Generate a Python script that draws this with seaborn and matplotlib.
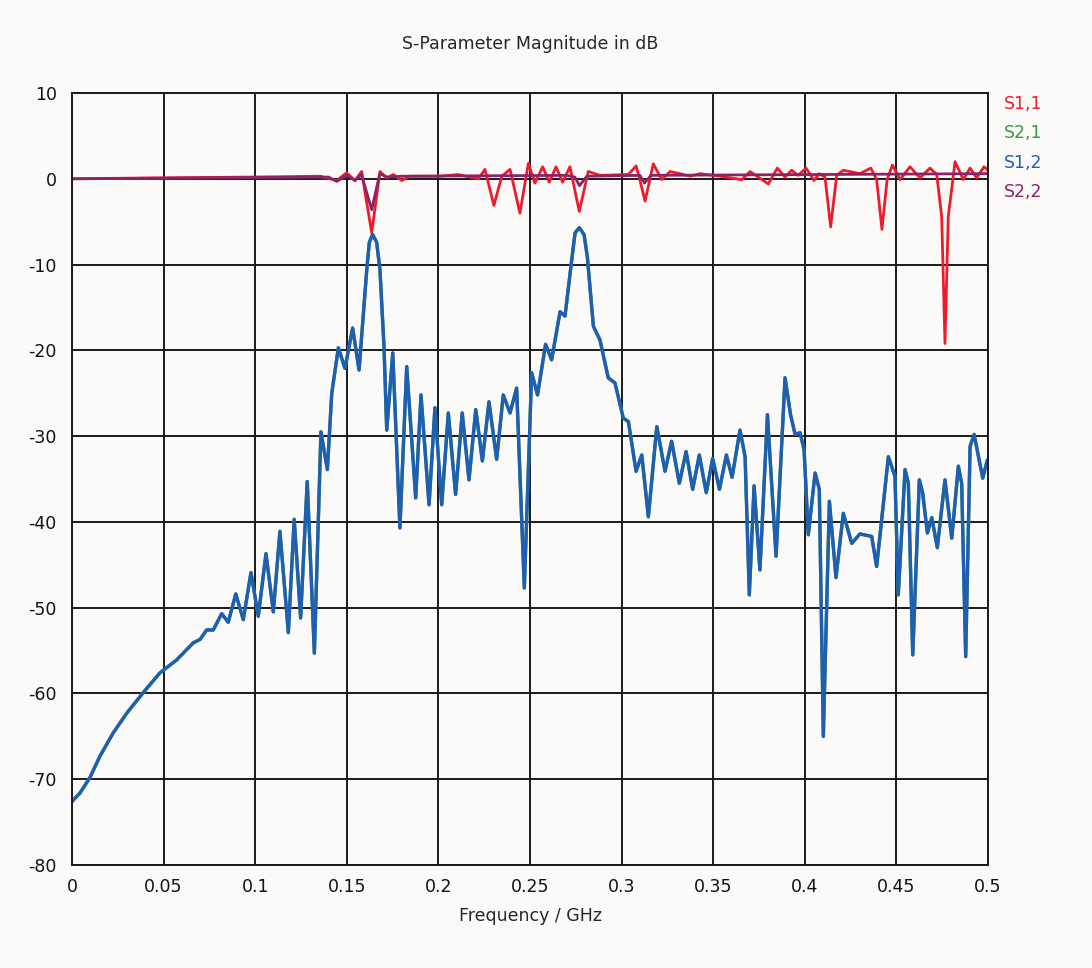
import numpy as np
import pandas as pd
import seaborn as sns
import matplotlib
matplotlib.use("Agg")
import matplotlib.pyplot as plt

# S1,2 (and S2,1, identical): frequency in GHz, magnitude in dB
freq_s12 = [0.0000, 0.0044, 0.0098, 0.0153, 0.0225, 0.0299, 0.0389, 0.0480, 0.0571, 0.0662,
            0.0699, 0.0735, 0.0771, 0.0817, 0.0853, 0.0894, 0.0935, 0.0977, 0.1017, 0.1059,
            0.1099, 0.1135, 0.1181, 0.1213, 0.1248, 0.1284, 0.1323, 0.1359, 0.1394, 0.1418,
            0.1454, 0.1490, 0.1532, 0.1567, 0.1609, 0.1623, 0.1641, 0.1663, 0.1681, 0.1703,
            0.1718, 0.1751,
            0.1790, 0.1827, 0.1876, 0.1905, 0.1949, 0.1981, 0.2018, 0.2054, 0.2094, 0.2130,
            0.2167, 0.2204, 0.2240, 0.2276, 0.2318, 0.2354, 0.2391, 0.2427, 0.2469, 0.2509,
            0.2541, 0.2585, 0.2618, 0.2664, 0.2691, 0.2728, 0.2746, 0.2769, 0.2795, 0.2813,
            0.2846, 0.2882,
            0.2927, 0.2964, 0.3009, 0.3037, 0.3079, 0.3110, 0.3146, 0.3192, 0.3237, 0.3273,
            0.3315, 0.3352, 0.3388, 0.3424, 0.3462, 0.3497, 0.3534, 0.3572, 0.3603, 0.3646,
            0.3674, 0.3697, 0.3723, 0.3755, 0.3796, 0.3843, 0.3892, 0.3922, 0.3947, 0.3974,
            0.3996, 0.4019, 0.4056, 0.4079, 0.4101, 0.4134, 0.4170, 0.4210, 0.4256, 0.4301,
            0.4365, 0.4392, 0.4456, 0.4492, 0.4510, 0.4547, 0.4565, 0.4589, 0.4625, 0.4643,
            0.4669, 0.4693, 0.4723, 0.4765, 0.4802, 0.4838, 0.4856, 0.4878, 0.4902, 0.4924,
            0.4971, 0.4996]
s12_db = [-72.6, -71.6, -69.8, -67.3, -64.6, -62.3, -59.9, -57.6, -56.1, -54.1,
          -53.7, -52.6, -52.6, -50.7, -51.7, -48.4, -51.4, -45.9, -51.0, -43.7,
          -50.5, -41.1, -52.9, -39.7, -51.2, -35.3, -55.3, -29.5, -33.9, -25.0,
          -19.7, -22.1, -17.4, -22.3, -10.6, -7.4, -6.5, -7.4, -10.6, -19.5,
          -29.3, -20.3,
          -40.7, -21.9, -37.2, -25.2, -38.0, -26.7, -38.0, -27.3, -36.8, -27.3,
          -35.1, -26.9, -32.9, -26.0, -32.7, -25.2, -27.3, -24.4, -47.7, -22.6,
          -25.2, -19.3, -21.1, -15.5, -16.0, -9.4, -6.3, -5.7, -6.5, -9.1,
          -17.2, -18.8,
          -23.2, -23.8, -27.9, -28.3, -34.1, -32.2, -39.4, -28.9, -34.1, -30.6,
          -35.5, -31.8, -36.2, -32.2, -36.6, -32.6, -36.2, -32.2, -34.8, -29.3,
          -32.4, -48.5, -35.8, -45.6, -27.5, -44.0, -23.2, -27.5, -29.8, -29.6,
          -31.6, -41.5, -34.3, -36.2, -65.0, -37.6, -46.5, -39.0, -42.5, -41.4,
          -41.7, -45.2, -32.4, -34.7, -48.5, -33.9, -35.5, -55.5, -35.1, -36.6,
          -41.3, -39.5, -43.0, -35.1, -41.9, -33.5, -35.5, -55.7, -31.2, -29.8,
          -34.9, -32.8]

# S1,1
freq_s11 = [0.0000, 0.0426, 0.0972, 0.1354, 0.1445, 0.1499, 0.1545, 0.1581, 0.1636, 0.1681,
            0.1718, 0.1754, 0.1800, 0.1845, 0.2009, 0.2107, 0.2218, 0.2254, 0.2303, 0.2346,
            0.2391, 0.2445, 0.2491, 0.2527, 0.2569, 0.2605, 0.2642, 0.2678, 0.2718, 0.2769,
            0.2818, 0.2882, 0.3037, 0.3079, 0.3097, 0.3128, 0.3173, 0.3219, 0.3264, 0.3319,
            0.3373, 0.3428, 0.3537, 0.3656, 0.3701, 0.3801, 0.3850, 0.3892, 0.3928, 0.3963,
            0.4007, 0.4050, 0.4079, 0.4110, 0.4141, 0.4174, 0.4210, 0.4301, 0.4360, 0.4392,
            0.4421, 0.4449, 0.4478, 0.4520, 0.4574, 0.4629, 0.4683, 0.4720, 0.4747, 0.4765,
            0.4783, 0.4820, 0.4865, 0.4902, 0.4938, 0.4978, 0.5000]
s11_db = [0.0, 0.1, 0.2, 0.3, -0.2, 0.7, -0.2, 0.85, -6.3, 0.85,
          0.1, 0.5, -0.2, 0.3, 0.3, 0.5, 0.0, 1.1, -3.1, 0.3,
          1.1, -4.0, 1.8, -0.5, 1.4, -0.4, 1.4, -0.4, 1.4, -3.8,
          0.85, 0.4, 0.5, 1.5, 0.1, -2.6, 1.75, -0.1, 0.85, 0.6,
          0.3, 0.6, 0.3, -0.1, 0.85, -0.6, 1.25, 0.2, 1.0, 0.4,
          1.25, -0.2, 0.6, 0.2, -5.6, 0.4, 1.0, 0.6, 1.25, -0.1,
          -5.9, -0.1, 1.6, -0.1, 1.4, 0.1, 1.25, 0.5, -4.4, -19.2,
          -4.4, 2.0, -0.1, 1.25, 0.1, 1.4, 1.0]

# S2,2
freq_s22 = [0.0000, 0.1400, 0.1445, 0.1500, 0.1545, 0.1580, 0.1636, 0.1680, 0.1720, 0.1800,
            0.2700, 0.2745, 0.2770, 0.2810, 0.3100, 0.3125, 0.3160, 0.5000]
s22_db = [0.0, 0.2, -0.3, 0.4, -0.2, 0.5, -3.6, 0.6, 0.2, 0.3,
          0.4, 0.2, -0.8, 0.3, 0.4, -0.5, 0.4, 0.6]

# S2,1 lies under S1,2 (reciprocal)
freq_s21 = freq_s12
s21_db = s12_db

series = [
    ("S1,1", freq_s11, s11_db, "#ec1c2c", 2.0),
    ("S2,1", freq_s21, s21_db, "#3c9a3c", 2.4),
    ("S1,2", freq_s12, s12_db, "#1e5fb4", 2.4),
    ("S2,2", freq_s22, s22_db, "#8a2468", 2.0),
]

sns.set_style("white")
plt.rcParams['font.family'] = ['DejaVu Sans']
plt.rcParams['axes.unicode_minus'] = False

fig = plt.figure(figsize=(10.92, 9.68), dpi=100, facecolor="#fcfaf8")
ax = fig.add_axes([0.0659, 0.1064, 0.8389, 0.7975])
ax.set_facecolor("#fcfaf8")

for name, f, db, col, lw in series:
    df = pd.DataFrame({"freq": f, "db": db})
    sns.lineplot(data=df, x="freq", y="db", ax=ax, color=col, linewidth=lw,
                 sort=False, estimator=None, legend=False)

ax.set_xlim(0, 0.5)
ax.set_ylim(-80, 10)
ax.set_xticks(np.arange(0, 0.501, 0.05))
ax.set_xticklabels(["0", "0.05", "0.1", "0.15", "0.2", "0.25", "0.3", "0.35", "0.4", "0.45", "0.5"])
ax.set_yticks(np.arange(-80, 11, 10))
ax.grid(True, color="#1a1a1a", linewidth=1.4)
for s in ax.spines.values():
    s.set_color("#1a1a1a")
    s.set_linewidth(1.4)
ax.tick_params(axis="both", direction="out", length=8, width=1.4, color="#1a1a1a",
               labelsize=12.5, labelcolor="#111111")
ax.tick_params(axis="y", pad=3)
ax.tick_params(axis="x", pad=1)

ax.set_xlabel("Frequency / GHz", fontsize=12.5, labelpad=8)
ax.set_ylabel("")
ax.set_title("S-Parameter Magnitude in dB", fontsize=12.5, pad=32)

# coloured text legend at the right
for i, (name, f, db, col, lw) in enumerate(series):
    fig.text(0.919, 0.893 - i * 0.0305, name, color=col, fontsize=12.5, va="center", ha="left")

fig.savefig("out.png", dpi=100, facecolor=fig.get_facecolor())
